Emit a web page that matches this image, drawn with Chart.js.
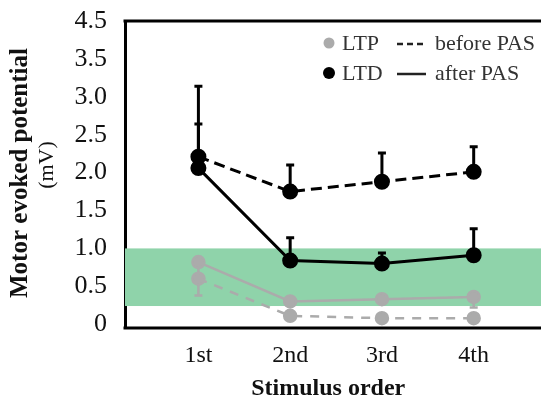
<!DOCTYPE html>
<html>
<head>
    <title>Motor evoked potential by stimulus order</title>
    <script src="https://cdn.jsdelivr.net/npm/chart.js"></script>
</head>
<body style="margin: 0; background-color: #ffffff;">
    <div style="width: 541px; height: 403px;">
        <canvas id="myChart" width="541" height="403"></canvas>
    </div>

    <script>
        // Values
        var stimulusLabels = ['1st', '2nd', '3rd', '4th'];
        var yTickValues = [0, 0.5, 1, 1.5, 2, 2.5, 3, 3.5, 4];
        var yTickLabels = ['0', '0.5', '1.0', '1.5', '2.0', '2.5', '3.0', '3.5', '4.5'];

        var ltdBefore = [2.21, 1.75, 1.88, 2.01];
        var ltdBeforeErr = [0.93, 0.35, 0.38, 0.33];
        var ltdAfter = [2.06, 0.84, 0.80, 0.91];
        var ltdAfterErr = [0.58, 0.30, 0.14, 0.35];
        var ltpBefore = [0.60, 0.11, 0.08, 0.08];
        var ltpBeforeErr = [0.22, 0.03, 0.03, 0.03];
        var ltpAfter = [0.82, 0.30, 0.33, 0.36];
        var ltpAfterErr = [0.20, 0.05, 0.05, 0.14];
        var bandRange = [0.24, 1.0];

        var serif = "'Liberation Serif', 'Times New Roman', serif";

        function toPoints(values) {
            return values.map(function (v, i) { return { x: i + 1, y: v }; });
        }

        // green reference band, error bars, frame lines, legend, y title
        var decorations = {
            id: 'decorations',
            beforeDatasetsDraw: function (chart) {
                var ctx = chart.ctx, area = chart.chartArea, y = chart.scales.y, x = chart.scales.x;
                ctx.save();
                ctx.fillStyle = '#8fd3aa';
                var top = y.getPixelForValue(bandRange[1]);
                var bottom = y.getPixelForValue(bandRange[0]);
                ctx.fillRect(area.left, top, chart.width - area.left, bottom - top);

                // error bars
                chart.data.datasets.forEach(function (ds) {
                    if (!ds.errors) return;
                    ctx.strokeStyle = ds.borderColor;
                    ctx.lineWidth = ds.errWidth;
                    ds.data.forEach(function (p, i) {
                        if (!ds.errors[i]) return;
                        var px = x.getPixelForValue(p.x);
                        var p0 = y.getPixelForValue(p.y);
                        var p1 = y.getPixelForValue(p.y + ds.errDir * ds.errors[i]);
                        ctx.beginPath();
                        ctx.moveTo(px, p0);
                        ctx.lineTo(px, p1);
                        ctx.moveTo(px - 4, p1);
                        ctx.lineTo(px + 4, p1);
                        ctx.stroke();
                    });
                });
                ctx.restore();
            },
            afterDraw: function (chart) {
                var ctx = chart.ctx, area = chart.chartArea;
                ctx.save();
                // frame lines running to the right edge
                ctx.strokeStyle = '#000';
                ctx.lineWidth = 3;
                ctx.beginPath();
                ctx.moveTo(area.left - 1.5, area.top);
                ctx.lineTo(chart.width, area.top);
                ctx.moveTo(area.left - 1.5, area.bottom);
                ctx.lineTo(chart.width, area.bottom);
                ctx.stroke();

                // legend
                ctx.font = '22px ' + serif;
                ctx.textBaseline = 'middle';
                ctx.textAlign = 'left';
                ctx.fillStyle = '#ababab';
                ctx.beginPath(); ctx.arc(329, 43, 5.5, 0, Math.PI * 2); ctx.fill();
                ctx.fillStyle = '#000';
                ctx.beginPath(); ctx.arc(329, 73, 6, 0, Math.PI * 2); ctx.fill();
                ctx.fillStyle = '#333';
                ctx.fillText('LTP', 342, 44);
                ctx.fillText('LTD', 342, 74);
                ctx.fillText('before PAS', 435, 44);
                ctx.fillText('after PAS', 435, 74);
                ctx.strokeStyle = '#222';
                ctx.lineWidth = 2.5;
                ctx.setLineDash([6, 4]);
                ctx.beginPath(); ctx.moveTo(397, 44); ctx.lineTo(426, 44); ctx.stroke();
                ctx.setLineDash([]);
                ctx.beginPath(); ctx.moveTo(397, 74); ctx.lineTo(426, 74); ctx.stroke();

                // y axis title
                ctx.fillStyle = '#111';
                ctx.textAlign = 'center';
                ctx.save();
                ctx.translate(21, 173);
                ctx.rotate(-Math.PI / 2);
                ctx.font = 'bold 25px ' + serif;
                ctx.fillText('Motor evoked potential', 0, 0);
                ctx.restore();
                ctx.save();
                ctx.translate(47, 165);
                ctx.rotate(-Math.PI / 2);
                ctx.font = '22px ' + serif;
                ctx.fillText('(mV)', 0, 0);
                ctx.restore();
                ctx.restore();
            }
        };

        var ctx = document.getElementById('myChart').getContext('2d');
        var myChart = new Chart(ctx, {
            type: 'line',
            data: {
                datasets: [
                    {
                        label: 'LTD before PAS',
                        data: toPoints(ltdBefore),
                        errors: ltdBeforeErr, errDir: 1, errWidth: 3,
                        borderColor: '#000', backgroundColor: '#000',
                        borderWidth: 3, borderDash: [11, 6],
                        pointRadius: 6.5, pointHoverRadius: 6.5
                    },
                    {
                        label: 'LTD after PAS',
                        data: toPoints(ltdAfter),
                        errors: ltdAfterErr, errDir: 1, errWidth: 3,
                        borderColor: '#000', backgroundColor: '#000',
                        borderWidth: 3,
                        pointRadius: 6.5, pointHoverRadius: 6.5
                    },
                    {
                        label: 'LTP before PAS',
                        data: toPoints(ltpBefore),
                        errors: ltpBeforeErr, errDir: -1, errWidth: 2.5,
                        borderColor: '#ababab', backgroundColor: '#ababab',
                        borderWidth: 2.5, borderDash: [9, 8],
                        pointRadius: 6, pointHoverRadius: 6
                    },
                    {
                        label: 'LTP after PAS',
                        data: toPoints(ltpAfter),
                        errors: ltpAfterErr, errDir: -1, errWidth: 2.5,
                        borderColor: '#ababab', backgroundColor: '#ababab',
                        borderWidth: 2.5,
                        pointRadius: 6, pointHoverRadius: 6
                    }
                ]
            },
            options: {
                responsive: false,
                animation: false,
                layout: { padding: { top: 0, right: 0, left: 0, bottom: 0 } },
                plugins: {
                    legend: { display: false },
                    tooltip: { enabled: false }
                },
                scales: {
                    x: {
                        type: 'linear',
                        min: 0.2,
                        max: 4.63,
                        grid: { display: false },
                        border: { display: false },
                        afterBuildTicks: function (scale) {
                            scale.ticks = stimulusLabels.map(function (l, i) { return { value: i + 1 }; });
                        },
                        afterFit: function (scale) { scale.height = 75; },
                        ticks: {
                            padding: 5,
                            color: '#111',
                            font: { family: serif, size: 24 },
                            callback: function (v, i) { return stimulusLabels[i]; }
                        },
                        title: {
                            display: true,
                            text: 'Stimulus order',
                            color: '#111',
                            padding: { top: 0, bottom: 0 },
                            font: { family: serif, size: 24, weight: 'bold' }
                        }
                    },
                    y: {
                        min: -0.05,
                        max: 4.0,
                        grid: { display: false },
                        border: { display: true, color: '#000', width: 3 },
                        afterBuildTicks: function (scale) {
                            scale.ticks = yTickValues.map(function (v) { return { value: v }; });
                        },
                        afterFit: function (scale) { scale.width = 125; },
                        ticks: {
                            padding: 10,
                            color: '#111',
                            font: { family: serif, size: 26, lineHeight: 0.85 },
                            callback: function (v, i) { return yTickLabels[i]; }
                        }
                    }
                }
            },
            plugins: [decorations]
        });
    </script>
</body>
</html>
